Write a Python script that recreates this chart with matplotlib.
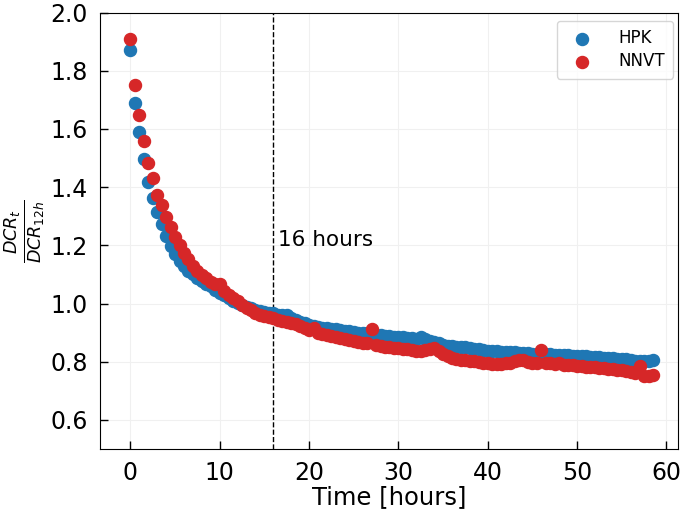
import matplotlib
matplotlib.use("Agg")
import matplotlib.pyplot as plt

# measurement times [hours]
time_h = [0.0, 0.5, 1.0, 1.5, 2.0, 2.5, 3.0, 3.5, 4.0, 4.5,
          5.0, 5.5, 6.0, 6.5, 7.0, 7.5, 8.0, 8.5, 9.0, 9.5,
          10.0, 10.5, 11.0, 11.5, 12.0, 12.5, 13.0, 13.5, 14.0, 14.5,
          15.0, 15.5, 16.0, 16.5, 17.0, 17.5, 18.0, 18.5, 19.0, 19.5,
          20.0, 20.5, 21.0, 21.5, 22.0, 22.5, 23.0, 23.5, 24.0, 24.5,
          25.0, 25.5, 26.0, 26.5, 27.0, 27.5, 28.0, 28.5, 29.0, 29.5,
          30.0, 30.5, 31.0, 31.5, 32.0, 32.5, 33.0, 33.5, 34.0, 34.5,
          35.0, 35.5, 36.0, 36.5, 37.0, 37.5, 38.0, 38.5, 39.0, 39.5,
          40.0, 40.5, 41.0, 41.5, 42.0, 42.5, 43.0, 43.5, 44.0, 44.5,
          45.0, 45.5, 46.0, 46.5, 47.0, 47.5, 48.0, 48.5, 49.0, 49.5,
          50.0, 50.5, 51.0, 51.5, 52.0, 52.5, 53.0, 53.5, 54.0, 54.5,
          55.0, 55.5, 56.0, 56.5, 57.0, 57.5, 58.0, 58.5]

hpk = [1.872, 1.690, 1.589, 1.497, 1.418, 1.362, 1.314, 1.272, 1.232, 1.198,
       1.169, 1.146, 1.129, 1.111, 1.100, 1.088, 1.077, 1.068, 1.060, 1.048,
       1.037, 1.028, 1.018, 1.010, 1.002, 0.994, 0.988, 0.983, 0.978, 0.975,
       0.971, 0.968, 0.966, 0.962, 0.960, 0.962, 0.950, 0.945, 0.938, 0.932,
       0.926, 0.922, 0.920, 0.917, 0.915, 0.913, 0.911, 0.909, 0.907, 0.905,
       0.902, 0.900, 0.899, 0.897, 0.895, 0.893, 0.891, 0.890, 0.888, 0.886,
       0.885, 0.884, 0.882, 0.880, 0.879, 0.884, 0.877, 0.872, 0.868, 0.863,
       0.858, 0.855, 0.853, 0.852, 0.851, 0.849, 0.847, 0.845, 0.843, 0.841,
       0.838, 0.837, 0.836, 0.835, 0.834, 0.832, 0.832, 0.831, 0.830, 0.829,
       0.828, 0.827, 0.826, 0.826, 0.825, 0.824, 0.823, 0.822, 0.822, 0.821,
       0.820, 0.819, 0.818, 0.817, 0.816, 0.815, 0.814, 0.813, 0.812, 0.811,
       0.810, 0.808, 0.806, 0.804, 0.802, 0.801, 0.803, 0.805]

nnvt = [1.908, 1.752, 1.648, 1.558, 1.483, 1.430, 1.374, 1.340, 1.298, 1.262,
        1.230, 1.200, 1.175, 1.152, 1.130, 1.112, 1.098, 1.086, 1.075, 1.066,
        1.068, 1.042, 1.030, 1.018, 1.008, 0.996, 0.985, 0.977, 0.968, 0.962,
        0.958, 0.954, 0.950, 0.945, 0.940, 0.936, 0.932, 0.928, 0.922, 0.915,
        0.908, 0.916, 0.900, 0.896, 0.893, 0.889, 0.885, 0.882, 0.878, 0.875,
        0.872, 0.869, 0.866, 0.863, 0.914, 0.858, 0.853, 0.850, 0.849, 0.848,
        0.846, 0.845, 0.843, 0.840, 0.838, 0.838, 0.840, 0.843, 0.847, 0.838,
        0.828, 0.820, 0.814, 0.810, 0.807, 0.805, 0.803, 0.801, 0.799, 0.797,
        0.795, 0.793, 0.792, 0.792, 0.794, 0.797, 0.802, 0.806, 0.805, 0.800,
        0.796, 0.794, 0.841, 0.795, 0.794, 0.792, 0.795, 0.790, 0.788, 0.787,
        0.785, 0.784, 0.783, 0.782, 0.781, 0.780, 0.778, 0.776, 0.774, 0.772,
        0.770, 0.767, 0.764, 0.760, 0.786, 0.750, 0.752, 0.754]

cut_h = 16

fig = plt.figure(figsize=(6.85, 5.14), dpi=100)
ax = fig.add_axes([0.146, 0.1265, 0.8438, 0.849])

ax.scatter(time_h, hpk, s=75, color="#1f77b4", label="HPK", zorder=3)
ax.scatter(time_h, nnvt, s=75, color="#d62728", label="NNVT", zorder=4)

ax.axvline(cut_h, color="black", linestyle="--", linewidth=1, zorder=2)
ax.text(cut_h + 0.5, 1.22, "16 hours", fontsize=15.5, va="center", ha="left")

ax.set_xlim(-3.4, 61.3)
ax.set_ylim(0.5, 2.0)
ax.set_xticks([0, 10, 20, 30, 40, 50, 60])
ax.set_yticks([0.6, 0.8, 1.0, 1.2, 1.4, 1.6, 1.8, 2.0])
ax.grid(True, color="#f0f0f0", linewidth=0.8, zorder=0)
ax.set_axisbelow(True)

ax.tick_params(direction="in", labelsize=17, length=6, width=1, pad=9)

ax.set_xlabel("Time [hours]", fontsize=17.5, labelpad=0)
ax.set_ylabel(r"$\frac{DCR_t}{DCR_{12h}}$", fontsize=18, labelpad=2)

ax.legend(loc="upper right", fontsize=12, frameon=True,
          bbox_to_anchor=(1.006, 1.0), borderpad=0.5, labelspacing=0.3,
          handletextpad=1.2)

plt.savefig("out.png", dpi=100)
